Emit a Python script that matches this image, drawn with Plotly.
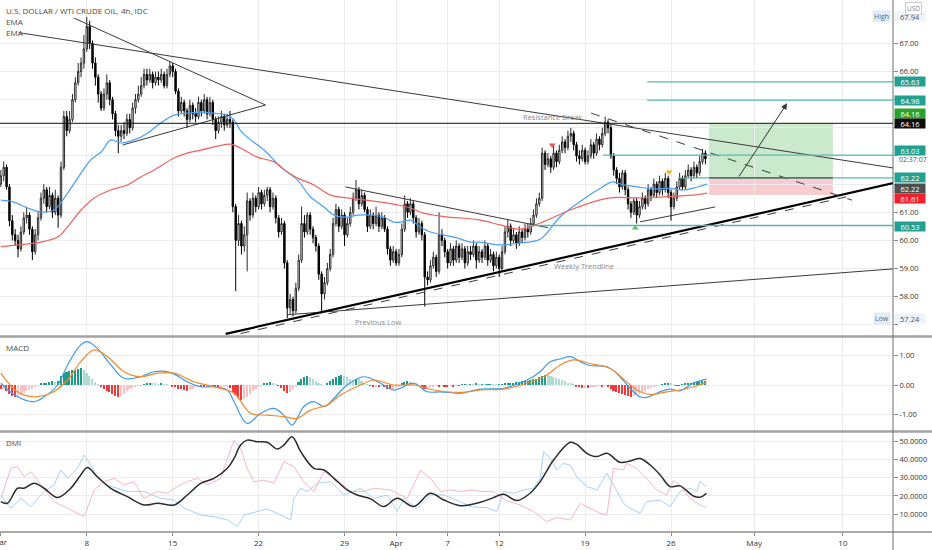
import plotly.graph_objects as go
from plotly.subplots import make_subplots

# WTI 4h candles from Mar 1 2021, 6 bars per trading day, x = bar number
first_open = 62.0
bar_close = [
    62.3, 62.6, 61.9, 60.7, 60.2, 60.0, 59.7, 60.3, 60.8, 60.9,
    60.4, 59.6, 60.2, 60.8, 61.5, 61.8, 61.2, 61.6, 61.0, 61.5,
    60.9, 62.6, 64.4, 63.9, 64.3, 65.0, 65.6, 66.0, 66.3, 66.8,
    67.6, 67.0, 66.3, 65.8, 65.2, 64.7, 65.2, 65.6, 65.0, 64.5,
    63.9, 63.7, 63.9, 63.8, 64.3, 64.0, 64.7, 65.0, 65.2, 65.5,
    65.9, 65.7, 65.9, 65.6, 65.8, 65.7, 65.9, 65.5, 65.9, 66.2,
    66.0, 65.3, 64.6, 64.9, 64.6, 64.3, 64.8, 64.5, 64.4, 64.9,
    64.6, 65.0, 64.5, 64.9, 64.3, 63.9, 64.2, 64.4, 64.1, 64.3,
    64.2, 61.2, 60.0, 60.6, 59.8, 60.2, 61.4, 60.9, 61.5, 61.2,
    61.7, 61.3, 61.6, 61.8, 61.2, 61.5, 60.8, 60.3, 60.6, 59.2,
    57.6, 57.9, 57.5, 58.3, 59.3, 60.6, 60.3, 60.9, 60.4, 60.1,
    59.8, 58.8, 58.1, 58.5, 59.0, 59.5, 60.6, 61.1, 60.5, 60.9,
    60.2, 60.6, 61.0, 61.5, 61.8, 61.3, 61.6, 61.1, 60.5, 60.9,
    60.6, 60.9, 60.5, 60.8, 60.4, 59.7, 59.3, 59.6, 59.2, 59.5,
    60.4, 61.3, 61.0, 61.3, 60.8, 60.3, 60.6, 60.2, 58.7, 58.6,
    59.1, 59.4, 58.9, 60.2, 60.0, 59.6, 59.2, 59.7, 59.3, 59.8,
    59.4, 59.7, 59.2, 59.6, 59.5, 59.8, 59.3, 59.6, 59.4, 59.8,
    59.3, 59.5, 59.1, 59.4, 59.0, 59.6, 60.3, 60.5, 60.0, 60.2,
    59.9, 60.3, 60.1, 60.4, 60.3, 60.6, 60.9, 61.3, 61.5, 63.1,
    62.7, 62.9, 62.6, 63.1, 62.8, 63.2, 63.5, 63.3, 63.7, 63.8,
    63.4, 63.0, 62.9, 63.2, 62.8, 63.0, 63.4, 63.1, 63.6, 63.4,
    63.8, 64.2, 64.0, 63.0, 62.5, 62.2, 61.9, 62.4, 61.8, 61.3,
    61.0, 61.4, 60.9, 61.2, 61.5, 61.3, 61.8, 61.6, 62.0, 61.7,
    62.1, 61.8, 62.2, 61.7, 61.2, 61.5, 61.9, 62.2, 61.9, 62.3,
    62.5, 62.3, 62.6, 62.4, 62.8, 63.1, 62.9,
]
bar_high = [
    62.5, 62.8, 62.7, 62.0, 60.9, 60.4, 60.2, 60.5, 61.0, 61.2,
    61.0, 60.5, 60.4, 61.0, 61.7, 62.0, 61.9, 61.9, 61.7, 61.8,
    61.6, 62.8, 64.6, 64.6, 64.6, 65.2, 65.8, 66.3, 66.5, 67.3,
    67.94, 67.8, 67.1, 66.5, 65.9, 65.3, 65.4, 65.9, 65.7, 65.1,
    64.6, 64.1, 64.1, 64.2, 64.5, 64.5, 64.9, 65.2, 65.5, 65.8,
    66.1, 66.1, 66.1, 66.0, 66.0, 66.0, 66.1, 66.0, 66.1, 66.35,
    66.3, 66.1, 65.4, 65.1, 65.0, 64.7, 65.0, 64.9, 64.7, 65.1,
    65.0, 65.2, 65.1, 65.1, 65.0, 64.4, 64.4, 64.6, 64.5, 64.5,
    64.6, 64.3, 61.3, 60.9, 60.7, 60.5, 61.7, 61.5, 61.7, 61.6,
    61.9, 61.8, 61.8, 61.9, 61.9, 61.7, 61.6, 60.9, 60.8, 60.7,
    59.3, 58.1, 58.0, 58.5, 59.5, 61.2, 60.9, 61.0, 61.0, 60.5,
    60.2, 59.9, 58.9, 58.7, 59.2, 59.7, 60.8, 61.3, 61.2, 61.1,
    61.0, 60.8, 61.2, 61.7, 62.15, 61.9, 61.8, 61.7, 61.2, 61.1,
    61.0, 61.2, 61.0, 61.0, 60.9, 60.5, 59.8, 59.8, 59.7, 59.7,
    60.6, 61.6, 61.4, 61.5, 61.4, 60.9, 60.8, 60.7, 60.3, 58.9,
    59.3, 59.6, 59.5, 61.0, 60.4, 60.1, 59.7, 59.9, 59.8, 60.0,
    59.9, 59.9, 59.8, 59.8, 59.8, 60.0, 59.9, 59.8, 59.7, 60.0,
    59.9, 59.7, 59.6, 59.6, 59.5, 59.8, 60.5, 60.75, 60.6, 60.4,
    60.3, 60.5, 60.4, 60.6, 60.6, 60.8, 61.1, 61.5, 61.7, 63.3,
    63.2, 63.1, 63.0, 63.4, 63.2, 63.4, 63.7, 63.6, 63.9, 64.0,
    63.9, 63.5, 63.2, 63.4, 63.3, 63.2, 63.6, 63.5, 63.8, 63.7,
    64.0, 64.4, 64.3, 64.1, 63.1, 62.6, 62.4, 62.5, 62.5, 61.9,
    61.4, 61.5, 61.5, 61.4, 61.7, 61.6, 62.0, 61.9, 62.2, 62.1,
    62.3, 62.2, 62.4, 62.3, 61.8, 61.7, 62.1, 62.4, 62.3, 62.5,
    62.7, 62.6, 62.8, 62.7, 63.0, 63.25, 63.2,
]
bar_low = [
    61.9, 62.1, 61.8, 60.5, 60.0, 59.8, 59.4, 59.6, 60.2, 60.6,
    60.2, 59.3, 59.5, 60.0, 60.7, 61.3, 61.0, 61.1, 60.8, 60.9,
    60.45, 60.8, 62.5, 63.7, 63.8, 64.2, 64.9, 65.5, 65.8, 66.1,
    66.7, 66.8, 66.1, 65.5, 64.9, 64.6, 64.6, 65.0, 64.8, 64.3,
    63.7, 63.1, 63.5, 63.6, 63.7, 63.8, 63.9, 64.5, 64.9, 65.1,
    65.4, 65.5, 65.6, 65.4, 65.5, 65.5, 65.6, 65.4, 65.4, 65.8,
    65.8, 65.2, 64.4, 64.5, 64.4, 64.0, 64.2, 64.3, 64.2, 64.3,
    64.4, 64.5, 64.3, 64.4, 64.1, 63.6, 63.8, 64.0, 63.9, 64.0,
    64.0, 61.0, 58.2, 59.8, 59.5, 59.6, 58.9, 60.7, 60.8, 61.0,
    61.1, 61.1, 61.2, 61.4, 61.0, 61.1, 60.6, 60.1, 60.2, 59.0,
    57.24, 57.4, 57.3, 57.4, 58.2, 59.2, 60.1, 60.2, 60.2, 59.9,
    59.6, 58.6, 57.4, 57.9, 58.4, 58.9, 59.4, 60.5, 60.3, 60.4,
    59.8, 60.1, 60.5, 60.9, 61.4, 61.1, 61.2, 61.0, 60.3, 60.4,
    60.4, 60.5, 60.3, 60.4, 60.3, 59.5, 59.1, 59.2, 59.1, 59.1,
    59.4, 60.3, 60.8, 60.9, 60.6, 60.1, 60.2, 60.0, 57.65, 58.4,
    58.5, 59.0, 58.7, 58.8, 59.8, 59.4, 59.0, 59.1, 59.1, 59.2,
    59.2, 59.3, 59.0, 59.1, 59.3, 59.4, 59.0, 59.2, 59.2, 59.3,
    59.1, 59.2, 58.9, 59.0, 58.7, 58.9, 59.5, 60.1, 59.8, 59.9,
    59.7, 59.8, 59.9, 60.0, 60.1, 60.2, 60.5, 60.8, 61.2, 61.4,
    62.5, 62.6, 62.4, 62.5, 62.6, 62.7, 63.1, 63.1, 63.2, 63.5,
    63.2, 62.8, 62.7, 62.8, 62.7, 62.7, 62.9, 62.9, 63.0, 63.2,
    63.3, 63.7, 63.8, 62.9, 62.3, 62.0, 61.7, 61.8, 61.6, 61.1,
    60.8, 60.9, 60.6, 60.8, 61.1, 61.1, 61.2, 61.4, 61.5, 61.5,
    61.6, 61.6, 61.7, 61.5, 60.7, 61.1, 61.4, 61.8, 61.8, 61.8,
    62.2, 62.1, 62.2, 62.2, 62.3, 62.7, 62.7,
]

# date ticks on the bar scale
tick_bars = [0, 30, 60, 90, 120, 138, 156, 174, 204, 234, 263, 294]
tick_labels = ["Mar", "8", "15", "22", "29", "Apr", "7", "12", "19", "26", "May", "10"]

# EMAs
ema_fast_bar = [0, 4.6, 9.3, 14, 18.6, 23.3, 28, 31.4, 35, 38.4,
                41.9, 46.5, 51.2, 55.8, 60.5, 65.1, 69.8, 74.4, 79.1, 81.4,
                83.7, 87.2, 91.9, 97.7, 103.5, 108.1, 112.8, 116.3, 121, 124.4,
                129, 133.7, 137.2, 139.6, 143, 146.5, 150, 154.6, 159.3, 163.9,
                167.4, 174.4, 181.4, 188.4, 195.3, 204.6, 209.3, 213.5, 217.4, 222.2,
                227.9, 233.7, 238.3, 243, 246.6]
ema_fast = [61.43, 61.36, 61.15, 61.01, 61.08, 61.68, 62.39, 62.86, 63.14, 63.57,
            63.46, 63.57, 63.81, 64.17, 64.45, 64.52, 64.56, 64.52, 64.45, 64.28,
            63.9, 63.57, 63.21, 62.61, 62.15, 61.55, 61.19, 60.90, 60.83, 60.90,
            60.90, 60.83, 60.65, 60.65, 60.72, 60.48, 60.30, 60.19, 60.09, 59.94,
            59.94, 59.84, 59.91, 60.05, 60.84, 61.55, 61.85, 62.08, 61.97, 61.9,
            61.83, 61.85, 61.79, 61.89, 62.0]
ema_slow_bar = [0, 7, 14, 19.8, 23.3, 28, 32.6, 38.4, 44.2, 48.8,
                53.5, 60.5, 65.1, 69.8, 75.6, 80.2, 83.7, 89.5, 95.4, 100,
                103.5, 109.3, 115.1, 121, 126.7, 132.5, 138.4, 143, 147.6, 152.4,
                157, 160.4, 167.4, 174.4, 181.4, 188.4, 198.8, 209.3, 213.5, 222.2,
                230.2, 237.2, 241.7, 246.6]
ema_slow = [59.78, 59.85, 59.94, 60.12, 60.48, 61.08, 61.51, 61.79, 61.97, 62.25,
            62.50, 62.93, 63.10, 63.21, 63.35, 63.42, 63.28, 62.96, 62.79, 62.43,
            62.22, 61.97, 61.61, 61.51, 61.44, 61.36, 61.26, 61.15, 60.97, 60.88,
            60.82, 60.80, 60.72, 60.55, 60.40, 60.62, 61.08, 61.44, 61.52, 61.51,
            61.54, 61.58, 61.61, 61.68]

# MACD panel
macd_hist = [
    -0.15, -0.12, -0.2, -0.3, -0.38, -0.42, -0.4,
    -0.34, -0.28, -0.22, -0.17, -0.12, -0.07, -0.03,
    0.04, 0.06, 0.08, 0.1, 0.12, 0.1, 0.14,
    0.3, 0.42, 0.45, 0.48, 0.5, 0.52, 0.55, 0.56, 0.5,
    0.42, 0.3, 0.2, 0.1, 0.03,
    -0.05, -0.12, -0.2, -0.25, -0.32, -0.36, -0.4, -0.38, -0.3, -0.22, -0.15,
    -0.1, -0.06, -0.03, -0.01, 0.02,
    0.05, 0.08, 0.06, 0.04, 0.03, 0.05, 0.02, 0.01, 0.0,
    -0.04, -0.08, -0.12, -0.15, -0.18, -0.2, -0.16, -0.12, -0.08, -0.05, -0.06, -0.08, -0.05,
    -0.03, -0.05, -0.07, -0.1, -0.08, -0.06, -0.05, -0.1,
    -0.25, -0.35, -0.45, -0.5, -0.48, -0.4, -0.3, -0.2,
    -0.12, -0.06, -0.02,
    0.05, 0.08, 0.1, 0.06, 0.02, -0.02,
    -0.1, -0.2, -0.28, -0.25, -0.15, -0.05,
    0.1, 0.2, 0.28, 0.3, 0.26, 0.2, 0.12, 0.06, 0.02, 0.0,
    0.08, 0.15, 0.22, 0.28, 0.32, 0.34, 0.3, 0.26, 0.2, 0.18, 0.22, 0.2, 0.14, 0.08, 0.02,
    -0.03, -0.05, -0.04, -0.06, -0.03, -0.08, -0.12, -0.15, -0.14, -0.1, -0.05,
    0.05, 0.1, 0.12, 0.1, 0.08, 0.04, 0.0,
    -0.08, -0.15, -0.12, -0.08,
    -0.04, -0.03, -0.05, -0.02, -0.04, -0.06, -0.03, -0.05, -0.02, -0.03,
    0.02, 0.03, 0.01, 0.03, 0.02, 0.04, 0.02, 0.03, 0.01, 0.02, 0.03, 0.02, 0.01, 0.02, 0.03,
    0.05, 0.06, 0.07, 0.08, 0.1, 0.11, 0.12, 0.14, 0.15, 0.17, 0.19, 0.22,
    0.28, 0.32, 0.34, 0.33, 0.31,
    0.27, 0.24, 0.2, 0.16, 0.12, 0.08, 0.04, 0.01,
    -0.04, -0.08, -0.1, -0.09, -0.1, -0.07,
    -0.05, -0.04, -0.03, -0.04, -0.03,
    -0.08, -0.14, -0.2, -0.25, -0.28, -0.32, -0.35, -0.38, -0.4, -0.38, -0.35,
    -0.3, -0.24, -0.2, -0.15, -0.1, -0.06, -0.03, 0.0,
    0.03, 0.05, 0.06, 0.04, 0.02,
    -0.02, -0.03, 0.02, 0.04, 0.06,
    0.08, 0.1, 0.12, 0.13, 0.14, 0.15,
]
macd_bar = [0, 5.8, 11.6, 15.1, 19.8, 23.3, 27.9, 30.2, 33.7, 38.4,
            43, 48.8, 53.5, 59.3, 65.1, 69.8, 74.4, 79.1, 81.4, 86,
            90.7, 95.3, 98.8, 101.7, 105.8, 109.3, 112.8, 116.3, 120.9, 126.7,
            132.6, 137.2, 144.2, 148.8, 153.5, 160.5, 167.4, 175.5, 183.7, 188.3,
            191.8, 195.3, 198.8, 202.3, 205.7, 211.6, 215, 219.7, 223.2, 225.5,
            230.2, 233.7, 237.1, 241.8, 246.4]
macd_line = [0.06, -0.40, -0.56, -0.40, 0.0, 0.68, 1.36, 1.47, 1.24, 0.68,
             0.23, 0.28, 0.45, 0.42, 0.11, -0.06, -0.06, -0.17, -0.56, -1.30,
             -0.96, -0.79, -1.02, -1.36, -0.73, -0.56, -0.73, -0.45, 0.0, 0.28,
             0.06, -0.17, 0.06, -0.23, -0.23, -0.28, -0.14, -0.11, 0.17, 0.45,
             0.79, 0.88, 0.96, 0.79, 0.66, 0.62, 0.40, -0.11, -0.40, -0.42,
             -0.23, -0.14, -0.20, 0.06, 0.20]
signal_bar = [0, 5.8, 11.6, 17.4, 23.3, 27.9, 32.6, 37.2, 43, 48.8,
              54.7, 60.5, 67.4, 74.4, 81.4, 87.2, 93, 98.8, 103.5, 108.1,
              114, 118.6, 125.6, 130.2, 137.2, 144.2, 151.2, 160.5, 167.4, 175.5,
              183.7, 190.6, 195.3, 199.9, 205.7, 212.7, 218.5, 222, 226.7, 232.5,
              237.1, 241.8, 246.4]
signal_line = [0.40, -0.23, -0.40, -0.28, 0.17, 0.79, 1.19, 0.96, 0.45, 0.28,
               0.40, 0.40, 0.11, -0.06, -0.28, -0.96, -1.02, -1.07, -1.13, -0.85,
               -0.68, -0.34, 0.0, 0.17, 0.0, 0.0, -0.17, -0.25, -0.17, -0.14,
               0.06, 0.34, 0.68, 0.85, 0.73, 0.56, 0.11, -0.17, -0.32, -0.23,
               -0.17, -0.06, 0.08]

# DMI panel
adx_bar = [0, 2.3, 5.8, 8.1, 11.6, 15.1, 19.8, 24.4, 27.9, 30.2,
           33.7, 38.4, 44.2, 50, 54.7, 60.5, 65.1, 69.8, 74.4, 79.1,
           81.4, 83.7, 86, 89.5, 93, 96.5, 98.8, 101.7, 104.7, 109.3,
           112.8, 116.3, 120.9, 124.4, 129.1, 133.7, 138.4, 144.2, 150, 154.7,
           160.5, 167.4, 172, 175.5, 180.2, 184.8, 188.3, 193, 198.8, 201.1,
           204.6, 208.1, 211.6, 216.2, 219.7, 223.2, 226.7, 230.2, 233.7, 237.1,
           241.8, 244.1, 246.4]
adx = [16.9, 16.0, 24.2, 24.2, 26.9, 24.2, 19.1, 24.2, 31.5, 35.5,
       30.5, 24.2, 19.6, 15.1, 16.0, 15.1, 20.5, 26.9, 29.6, 35.1,
       40.5, 47.8, 50.5, 49.6, 49.3, 45.6, 47.8, 52.4, 44.2, 35.1,
       34.2, 29.6, 23.3, 20.5, 18.4, 14.2, 18.7, 14.2, 21.5, 17.8,
       14.7, 16.5, 19.1, 20.9, 17.5, 21.5, 27.8, 39.6, 49.3, 48.2,
       43.3, 41.5, 43.3, 38.4, 39.1, 40.5, 36.9, 31.5, 25.1, 25.5,
       20.0, 19.3, 21.5]
di_plus_bar = [0, 3.5, 7, 10.5, 15.1, 18.6, 20.9, 23.3, 26.7, 29.1,
               31.4, 33.7, 37.2, 44.2, 50, 55.8, 60.5, 64, 69.8, 74.4,
               79.1, 82.6, 84.9, 89.5, 93, 96.5, 101.2, 102.3, 104.7, 107,
               110.5, 115.1, 119.8, 125.6, 130.2, 134.9, 138.4, 140.7, 145.3, 150,
               154.7, 160.5, 163.9, 169.7, 173.2, 175.5, 179, 182.5, 186, 188.3,
               189.5, 191.8, 194.1, 196.4, 198.8, 201.1, 204.6, 208.1, 211.6, 213.9,
               217.4, 219.7, 223.2, 225.5, 230.2, 233.7, 237.1, 240.6, 243, 244.1,
               246.4]
di_plus = [20.5, 13.3, 18.7, 14.2, 22.4, 26.0, 34.2, 29.6, 35.1, 42.4,
           36.9, 29.6, 26.0, 22.4, 22.4, 18.7, 17.8, 13.3, 9.6, 8.7,
           6.9, 3.3, 9.6, 11.5, 12.9, 10.5, 6.9, 18.7, 24.2, 22.4,
           26.9, 27.8, 20.5, 24.2, 18.7, 20.5, 11.5, 18.7, 13.3, 20.5,
           20.5, 16.9, 14.2, 13.6, 11.5, 22.4, 21.5, 23.3, 24.2, 29.6,
           44.2, 40.5, 34.2, 37.8, 36.9, 30.5, 25.1, 23.3, 32.4, 26.0,
           16.0, 13.3, 10.5, 16.9, 17.8, 14.2, 22.4, 24.2, 22.4, 27.8,
           25.1]
di_minus_bar = [0, 3.5, 5.8, 8.1, 10.5, 14, 18.6, 23.3, 29.1, 32.6,
                36, 39.5, 43, 46.5, 50, 54.7, 58.1, 61.6, 65.1, 68.6,
                72.1, 76.7, 81.4, 83.7, 86, 88.4, 91.9, 95.3, 98.8, 102.3,
                105.8, 109.3, 112.8, 117.4, 122.1, 126.7, 130.2, 136, 141.9, 146.5,
                150, 153.5, 157, 160.5, 163.9, 168.5, 172, 176.7, 181.3, 186,
                190.6, 194.1, 198.8, 202.3, 205.7, 209.2, 211.6, 213.9, 217.4, 218.5,
                222, 225.5, 229, 232.5, 234.8, 237.1, 240.6, 244.1, 246.4]
di_minus = [18.7, 35.1, 36.0, 30.5, 33.3, 26.0, 16.9, 13.3, 8.7, 23.3,
            27.8, 29.6, 26.0, 27.8, 18.7, 22.4, 21.5, 25.1, 27.8, 29.6,
            26.0, 29.6, 50.5, 46.0, 35.1, 27.8, 28.7, 26.9, 38.7, 36.0,
            27.8, 22.4, 33.3, 28.7, 22.4, 22.4, 24.2, 23.3, 18.7, 34.2,
            29.6, 22.4, 23.3, 22.4, 23.3, 22.4, 22.4, 17.3, 15.1, 11.5,
            6.0, 8.2, 6.9, 16.0, 13.3, 10.5, 9.6, 35.1, 34.2, 37.8,
            35.1, 29.6, 23.3, 20.5, 28.2, 26.0, 18.7, 15.1, 13.6]

# drawings on the price panel: bar0, price0, bar1, price1
thin_lines = [
    (6.3, 67.38, 311.8, 62.57),     # long resistance
    (25.5, 67.90, 92.4, 64.81),     # triangle top
    (42.5, 63.39, 92.4, 64.81),     # triangle bottom
    (120.3, 61.90, 191.1, 60.45),   # channel
    (100.1, 57.36, 311.8, 58.99),   # previous low
    (223.2, 60.66, 249.4, 61.19),   # rising support
]
weekly_trend = (78.5, 56.68, 311.8, 62.04)
dashed_lines = [
    (83.7, 56.69, 297.5, 61.60),
    (206.1, 64.52, 297.2, 61.43),
]
key_level = 64.16
levels = [65.63, 64.98, 63.03, 62.22, 60.53]
level_start = [225.7, 225.7, 210.3, 236.5, 183.8]
entry, target, stop = 62.22, 64.16, 61.61
box_bars = (247.3, 290.5)
arrow_from = (257.4, 62.22)
arrow_to = (274.5, 64.87)
marks_bar = [192.5, 233.3, 221.5]
marks_price = [63.39, 62.43, 60.44]

FONT = "Open Sans"
bars = list(range(len(bar_close)))
bar_open = [first_open] + bar_close[:-1]
highs = [max(h, o, c) for h, o, c in zip(bar_high, bar_open, bar_close)]
lows = [min(l, o, c) for l, o, c in zip(bar_low, bar_open, bar_close)]

fig = make_subplots(rows=3, cols=1, shared_xaxes=True, vertical_spacing=0.0)

fig.add_trace(go.Candlestick(
    x=bars, open=bar_open, high=highs, low=lows, close=bar_close,
    increasing=dict(line=dict(color="#2a2a2a", width=1), fillcolor="#ffffff"),
    decreasing=dict(line=dict(color="#000000", width=1), fillcolor="#000000"),
    whiskerwidth=0, hoverinfo="skip", showlegend=False), row=1, col=1)
fig.add_trace(go.Scatter(x=ema_fast_bar, y=ema_fast, mode="lines", line_shape="spline",
                         line=dict(color="#4a9ff0", width=1.2), showlegend=False), row=1, col=1)
fig.add_trace(go.Scatter(x=ema_slow_bar, y=ema_slow, mode="lines", line_shape="spline",
                         line=dict(color="#f0625d", width=1.2), showlegend=False), row=1, col=1)
fig.add_trace(go.Scatter(
    x=marks_bar, y=marks_price, mode="markers",
    marker=dict(symbol=["triangle-down", "triangle-down", "triangle-up"],
                color=["#e8575a", "#f5b324", "#5cc15f"], size=6),
    showlegend=False), row=1, col=1)

# histogram colours follow TradingView's rising/falling rule
hist_colors = []
prev = 0
for h in macd_hist:
    if h >= 0:
        hist_colors.append("#1e9c88" if h >= prev else "#acdcd4")
    else:
        hist_colors.append("#ee3b3b" if h < prev else "#f9c2c6")
    prev = h
fig.add_trace(go.Bar(x=list(range(len(macd_hist))), y=macd_hist, marker_color=hist_colors,
                     marker_line_width=0, width=0.55, showlegend=False), row=2, col=1)
fig.add_trace(go.Scatter(x=macd_bar, y=macd_line, mode="lines", line_shape="spline",
                         line=dict(color="#3d9be9", width=1.2), showlegend=False), row=2, col=1)
fig.add_trace(go.Scatter(x=signal_bar, y=signal_line, mode="lines", line_shape="spline",
                         line=dict(color="#f58a2a", width=1.2), showlegend=False), row=2, col=1)

fig.add_trace(go.Scatter(x=di_plus_bar, y=di_plus, mode="lines",
                         line=dict(color="#a9d1f5", width=1), showlegend=False), row=3, col=1)
fig.add_trace(go.Scatter(x=di_minus_bar, y=di_minus, mode="lines",
                         line=dict(color="#f7b7c0", width=1), showlegend=False), row=3, col=1)
fig.add_trace(go.Scatter(x=adx_bar, y=adx, mode="lines", line_shape="spline",
                         line=dict(color="#2b2b2b", width=1.5), showlegend=False), row=3, col=1)

# drawings
for x0, y0, x1, y1 in thin_lines:
    fig.add_shape(type="line", xref="x", yref="y", x0=x0, y0=y0, x1=x1, y1=y1,
                  line=dict(color="#3a3a3a", width=1))
fig.add_shape(type="line", xref="x", yref="y", x0=weekly_trend[0], y0=weekly_trend[1],
              x1=weekly_trend[2], y1=weekly_trend[3], line=dict(color="#000000", width=2.2))
for x0, y0, x1, y1 in dashed_lines:
    fig.add_shape(type="line", xref="x", yref="y", x0=x0, y0=y0, x1=x1, y1=y1,
                  line=dict(color="#3a3a3a", width=1, dash="dash"))
fig.add_shape(type="line", xref="x", yref="y", x0=-0.3, x1=311.5, y0=key_level, y1=key_level,
              line=dict(color="#111111", width=1))
for lv, st in zip(levels, level_start):
    fig.add_shape(type="line", xref="x", yref="y", x0=st, x1=311.5, y0=lv, y1=lv,
                  line=dict(color="#55b9ad", width=1.3))
fig.add_shape(type="rect", xref="x", yref="y", x0=box_bars[0], x1=box_bars[1], y0=entry, y1=target,
              fillcolor="#cbe9cc", line_width=0, layer="below")
fig.add_shape(type="rect", xref="x", yref="y", x0=box_bars[0], x1=box_bars[1], y0=stop, y1=entry,
              fillcolor="#f9cdcf", line_width=0, layer="below")
fig.add_shape(type="line", xref="x", yref="y", x0=box_bars[0], x1=box_bars[1], y0=entry, y1=entry,
              line=dict(color="#4d5a58", width=1.3))
fig.add_annotation(x=arrow_to[0], y=arrow_to[1], ax=arrow_from[0], ay=arrow_from[1],
                   xref="x", yref="y", axref="x", ayref="y", text="", showarrow=True,
                   arrowhead=2, arrowsize=1.2, arrowwidth=1, arrowcolor="#333333")

# chart notes
for txt, bx, py in [("Resistance Break", 192.5, 64.38), ("Weekly Trendline", 203.7, 59.09),
                    ("Previous Low", 131.8, 57.10)]:
    fig.add_annotation(x=bx, y=py, xref="x", yref="y", text=txt, showarrow=False,
                       font=dict(family=FONT, size=7.5, color="#8a8a8a"))

# panel separators and axis lines
W = 932 / 893
for yy in [1 - 336.5 / 532, 1 - 431.5 / 532]:
    fig.add_shape(type="line", xref="paper", yref="paper", x0=0, x1=W, y0=yy, y1=yy,
                  line=dict(color="#a3a3a3", width=2.5))
fig.add_shape(type="line", xref="paper", yref="paper", x0=0, x1=W, y0=0, y1=0,
              line=dict(color="#8c8c8c", width=1.5))
fig.add_shape(type="line", xref="paper", yref="paper", x0=1, x1=1, y0=-18 / 532, y1=1,
              line=dict(color="#6f6f6f", width=1))

# top-left legends
for txt, yy in [("U.S. DOLLAR / WTI CRUDE OIL, 4h, IDC", 10), ("EMA", 22), ("EMA", 33),
                ("MACD", 347), ("DMI", 442)]:
    fig.add_annotation(x=0, y=1 - yy / 532, xref="paper", yref="paper", text=txt,
                       showarrow=False, xanchor="left", yanchor="middle", xshift=4,
                       font=dict(family=FONT, size=8, color="#4a4a4a"))

# first month label sits on the left edge and is cut off there
fig.add_annotation(x=0, y=0, xref="paper", yref="paper", text=tick_labels[0], showarrow=False,
                   xanchor="center", yanchor="middle", yshift=-9,
                   font=dict(family=FONT, size=8, color="#333333"))

# price scale labels
for txt, py, bg in [("65.63", 65.63, "#22a091"), ("64.98", 64.98, "#22a091"),
                    ("64.16", 64.51, "#29a329"), ("64.16", 64.14, "#0d0d0d"),
                    ("63.03", 63.21, "#22a091"), ("62.22", 62.23, "#22a091"),
                    ("62.22", 61.85, "#4f4f4f"), ("61.61", 61.50, "#f2202a"),
                    ("60.53", 60.51, "#22a091")]:
    fig.add_annotation(x=1, y=py, xref="paper", yref="y", text=txt, showarrow=False,
                       xanchor="left", yanchor="middle", xshift=1, width=30, height=9,
                       bgcolor=bg, borderpad=0,
                       font=dict(family=FONT, size=7.5, color="#ffffff"))
fig.add_annotation(x=1, y=62.86, xref="paper", yref="y", text="02:37:07", showarrow=False,
                   xanchor="left", yanchor="middle", xshift=4,
                   font=dict(family=FONT, size=7, color="#555555"))
for lab, val, py in [("High", "67.94", 67.94), ("Low", "57.24", 57.21)]:
    fig.add_annotation(x=1, y=py, xref="paper", yref="y", text=lab, showarrow=False,
                       xanchor="right", yanchor="middle", xshift=-2, bgcolor="#e2ecf6",
                       borderpad=1, font=dict(family=FONT, size=7, color="#666666"))
    fig.add_annotation(x=1, y=py, xref="paper", yref="y", text=val, showarrow=False,
                       xanchor="left", yanchor="middle", xshift=1, width=30, height=9,
                       bgcolor="#eef3f9", borderpad=0,
                       font=dict(family=FONT, size=7.5, color="#555555"))
fig.add_annotation(x=1, y=1 - 9 / 532, xref="paper", yref="paper", text="USD", showarrow=False,
                   xanchor="left", yanchor="middle", xshift=12, bgcolor="#ffffff",
                   bordercolor="#cccccc", borderwidth=1, borderpad=1,
                   font=dict(family=FONT, size=6.5, color="#888888"))

# price ticks hidden behind the level labels keep only their grid line
price_ticks = list(range(57, 68))
price_text = ["" if (62 <= p <= 65 or p == 57) else f"{p:.2f}" for p in price_ticks]

fig.update_xaxes(range=[-0.3, 311.5], tickvals=tick_bars, ticktext=tick_labels,
                 showgrid=True, gridcolor="#ececec", gridwidth=1, zeroline=False,
                 showline=False, ticks="", rangeslider_visible=False,
                 tickfont=dict(family=FONT, size=8, color="#333333"))
fig.update_xaxes(ticks="outside", ticklen=3, tickcolor="#8c8c8c", row=3, col=1)
fig.update_yaxes(side="right", showgrid=True, gridcolor="#ececec", zeroline=False,
                 showline=False, ticks="outside", ticklen=4, tickcolor="#8a8a8a",
                 tickfont=dict(family=FONT, size=7.5, color="#333333"))
fig.update_yaxes(range=[56.64, 68.54], tickvals=price_ticks, ticktext=price_text,
                 domain=[1 - 335 / 532, 1], row=1, col=1)
fig.update_yaxes(range=[-1.525, 1.593], tickvals=[-1, 0, 1], ticktext=["-1.00", "0.00", "1.00"],
                 domain=[1 - 430 / 532, 1 - 338 / 532], row=2, col=1)
fig.update_yaxes(range=[0.3, 54.4], tickvals=[10, 20, 30, 40, 50], tickformat=".4f",
                 domain=[0, 1 - 433 / 532], row=3, col=1)

fig.update_layout(width=932, height=550, margin=dict(l=0, r=39, t=0, b=18),
                  plot_bgcolor="#ffffff", paper_bgcolor="#ffffff",
                  hovermode=False, showlegend=False, bargap=0,
                  font=dict(family=FONT, size=8, color="#333333"))

# the page body has a default 8px margin; drop it so the chart sits at 0,0
fig.write_html("out.html", config={"displayModeBar": False},
               post_script="document.body.style.margin='0';")
